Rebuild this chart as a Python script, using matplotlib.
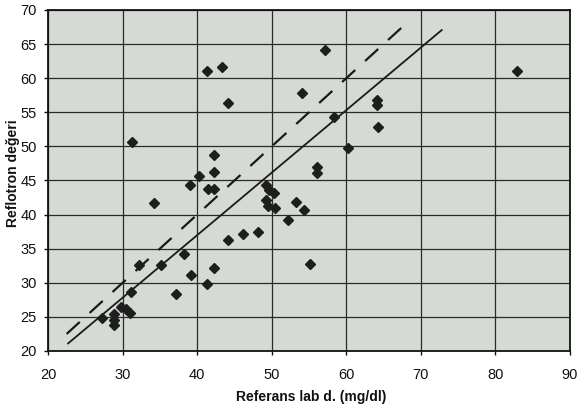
import matplotlib
matplotlib.use("Agg")
import matplotlib.pyplot as plt
import numpy as np

plt.rcParams['font.family'] = ['Liberation Sans', 'DejaVu Sans']

# Data (Referans lab d. vs Reflotron)
ref_x = [27.2, 28.9, 28.9, 28.9, 29.8, 30.4, 31.0, 31.1, 32.2, 35.2,
         38.3, 39.2, 37.2, 41.3, 42.3, 44.2, 46.2, 48.2,
         49.2, 49.7, 50.3, 49.3, 49.5, 50.4,
         52.2, 53.2, 54.3, 55.2, 56.1, 56.1, 57.2, 54.1, 58.3, 60.2,
         64.1, 64.1, 64.2, 82.9, 41.3, 43.3, 44.2, 31.2, 34.2,
         39.1, 40.3, 42.3, 42.3, 41.4, 42.3]
reflo_y = [24.9, 23.8, 24.5, 25.4, 26.5, 26.2, 25.6, 28.7, 32.6, 32.6,
           34.2, 31.2, 28.3, 29.8, 32.2, 36.3, 37.1, 37.4,
           44.4, 43.6, 43.1, 42.2, 41.3, 41.0,
           39.2, 41.9, 40.7, 32.8, 47.0, 46.1, 64.2, 57.8, 54.3, 49.7,
           56.8, 56.0, 52.8, 61.0, 61.1, 61.7, 56.3, 50.7, 41.7,
           44.3, 45.7, 46.3, 48.7, 43.7, 43.7]

# Regression line (solid) and identity line (dashed)
fit_x = [22.7, 72.8]
fit_slope = 0.917
fit_intercept = 0.3
ident_x = [22.5, 68.3]

x_ticks = [20, 30, 40, 50, 60, 70, 80, 90]
y_ticks = [20, 25, 30, 35, 40, 45, 50, 55, 60, 65, 70]

fig = plt.figure(figsize=(5.78, 4.12), dpi=100)
ax = fig.add_axes([48/578, 1-351/412, (570-48)/578, (351-10)/412])
ax.set_facecolor('#d6dad4')

ax.set_xlim(20, 90)
ax.set_ylim(20, 70)
ax.set_xticks(x_ticks)
ax.set_yticks(y_ticks)
ax.grid(True, color='#2a2a2a', linewidth=0.9)
ax.set_axisbelow(True)

fx = np.array(fit_x)
ax.plot(fx, fit_slope*fx + fit_intercept, color='#1a1a1a', linewidth=1.3, zorder=3)
ix = np.array(ident_x)
ax.plot(ix, ix, color='#1a1a1a', linewidth=1.6, linestyle=(0, (8, 6)), zorder=3)

ax.plot(ref_x, reflo_y, linestyle='none', marker='D', markersize=5.5,
        color='#1e1e1e', markeredgecolor='#1e1e1e', zorder=4)

for s in ax.spines.values():
    s.set_color('#111111')
    s.set_linewidth(1.3)

ax.tick_params(axis='both', labelsize=10.5, colors='#111111', length=3, width=1, direction='out')
ax.tick_params(axis='x', pad=9)
ax.tick_params(axis='y', pad=5)

ax.set_xlabel('Referans lab d. (mg/dl)', fontsize=10, fontweight='bold', color='#111111')
ax.xaxis.set_label_coords(0.505, -0.114)
ax.set_ylabel('Reflotron değeri', fontsize=10, fontweight='bold', color='#111111')
ax.yaxis.set_label_coords(-0.053, 0.52)

fig.savefig('out.png', dpi=100, facecolor='white')
